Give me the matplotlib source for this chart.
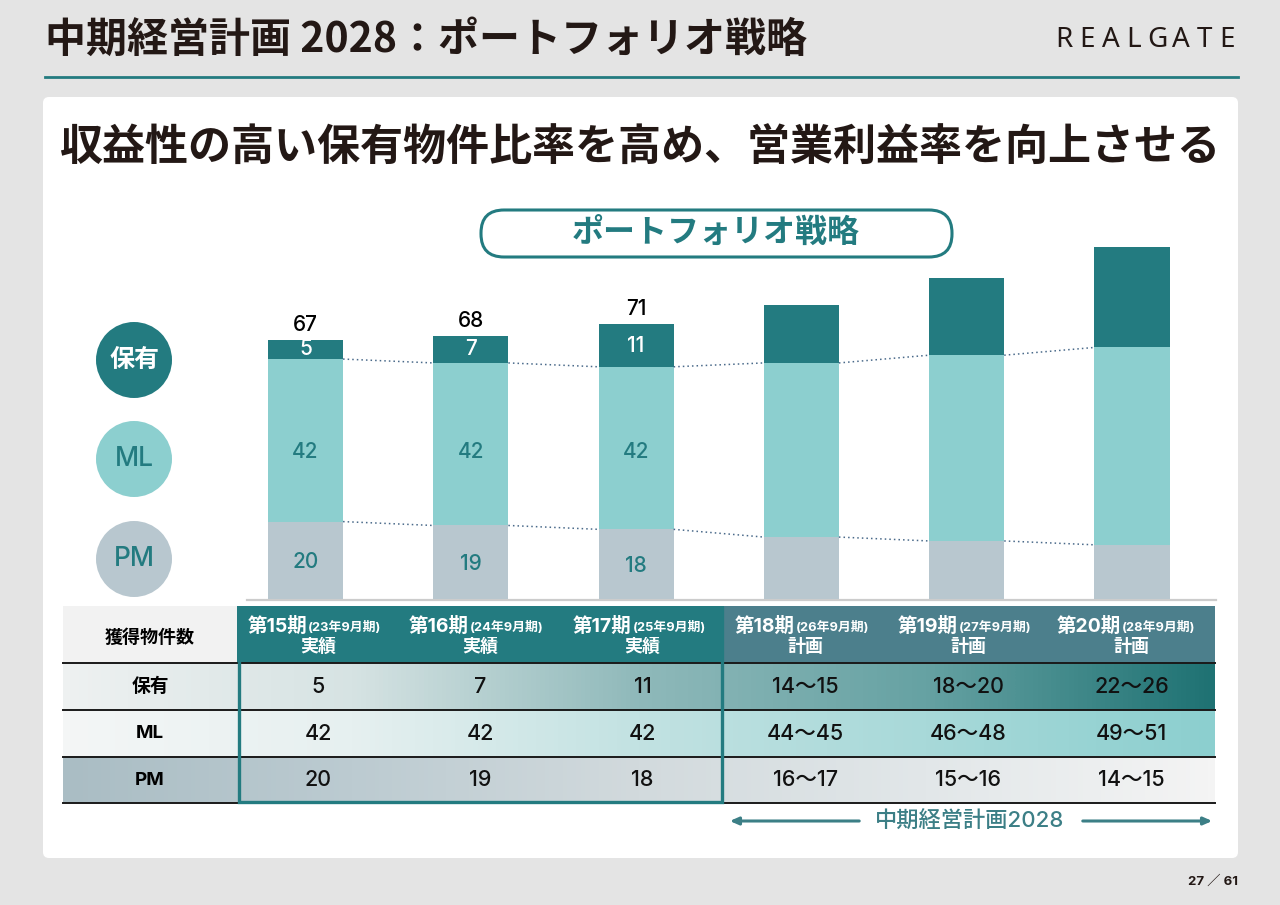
import numpy as np
import matplotlib
matplotlib.use('Agg')
import matplotlib.pyplot as plt
from matplotlib.patches import Rectangle, Circle, FancyBboxPatch
from matplotlib.colors import LinearSegmentedColormap

plt.rcParams['font.family'] = ['Noto Sans CJK JP', 'DejaVu Sans']
NUM = ['Inter', 'Noto Sans CJK JP']  # wide Latin digits, CJK fallback

# ---- data ----
periods = ['第15期', '第16期', '第17期', '第18期', '第19期', '第20期']
fiscal = ['(23年9月期)', '(24年9月期)', '(25年9月期)', '(26年9月期)', '(27年9月期)', '(28年9月期)']
kinds = ['実績', '実績', '実績', '計画', '計画', '計画']

pm_bar = [20, 19, 18, 16, 15, 14]
ml_bar = [42, 42, 42, 45, 48, 51]
keep_bar = [5, 7, 11, 15, 20, 26]
n_actual = 3

row_names = ['保有', 'ML', 'PM']
keep_txt = ['5', '7', '11', '14〜15', '18〜20', '22〜26']
ml_txt = ['42', '42', '42', '44〜45', '46〜48', '49〜51']
pm_txt = ['20', '19', '18', '16〜17', '15〜16', '14〜15']

TEAL = '#237b80'
LTEAL = '#8ccfcf'
GRAY = '#b8c7cf'
PLAN = '#4c7f8c'
INK = '#231815'

fig = plt.figure(figsize=(12.8, 9.05), dpi=100)
fig.patch.set_facecolor('#e4e4e4')
bg = fig.add_axes([0, 0, 1, 1], zorder=0)
bg.set_xlim(0, 1280)
bg.set_ylim(905, 0)
bg.axis('off')

# header
bg.text(45, 40, '中期経営計画 2028：ポートフォリオ戦略', fontsize=29.5, fontweight='bold',
        color=INK, va='center', ha='left')
for i, ch in enumerate('REALGATE'):
    bg.text(1052 + 23.4 * (i + 0.5), 40, ch, fontsize=20, color=INK, ha='center', va='center',
            family=['Noto Sans', 'DejaVu Sans'], fontweight='light')
bg.plot([45, 1238], [77, 77], color=TEAL, lw=2)

# white panel
bg.add_patch(FancyBboxPatch((43, 97), 1195, 761, boxstyle='round,pad=0,rounding_size=6',
                            fc='white', ec='none', zorder=1))
bg.text(640, 147, '収益性の高い保有物件比率を高め、営業利益率を向上させる', fontsize=31,
        fontweight='bold', color=INK, ha='center', va='center', zorder=3)

# pill title
bg.add_patch(FancyBboxPatch((481, 210), 471, 47, boxstyle='round,pad=0,rounding_size=23',
                            fc='white', ec=TEAL, lw=2.2, zorder=3))
bg.text(716, 234, 'ポートフォリオ戦略', fontsize=23, fontweight='bold', color=TEAL,
        ha='center', va='center', zorder=4)

# legend circles
for y, fc, lab, tc, fw, fs in [(360, TEAL, '保有', 'white', 'bold', 18),
                               (459, LTEAL, 'ML', TEAL, 'medium', 19),
                               (559, GRAY, 'PM', TEAL, 'medium', 19)]:
    bg.add_patch(Circle((134, y), 38, fc=fc, ec='none', zorder=3))
    bg.text(134, y, lab, fontsize=fs, color=tc, fontweight=fw, ha='center', va='center',
            zorder=4, family=NUM)

# ---- bars ----
ax = fig.add_axes([230 / 1280, (905 - 599) / 905, 1000 / 1280, 400 / 905], zorder=2)
ax.patch.set_alpha(0)
ax.axis('off')
x = np.arange(len(periods))
w = 0.454
pm = np.array(pm_bar)
ml = np.array(ml_bar)
kp = np.array(keep_bar)
ax.bar(x, pm, w, color=GRAY, edgecolor='none')
ax.bar(x, ml, w, bottom=pm, color=LTEAL, edgecolor='none')
ax.bar(x, kp, w, bottom=pm + ml, color=TEAL, edgecolor='none')
for i in range(len(x) - 1):
    for lev in (pm, pm + ml):
        ax.plot([x[i] + w / 2, x[i + 1] - w / 2], [lev[i], lev[i + 1]], ls=(0, (1, 2)),
                color='#4a6a8a', lw=1.1)
ml_label_y = 38  # ML labels sit on one line in the slide
lab_kw = dict(ha='center', va='center', fontsize=15, family=NUM, fontweight='medium')
for i in range(n_actual):
    ax.text(x[i], pm[i] / 2 - 0.5, str(pm[i]), color=TEAL, **lab_kw)
    ax.text(x[i], ml_label_y, str(ml[i]), color=TEAL, **lab_kw)
    ax.text(x[i], pm[i] + ml[i] + kp[i] / 2, str(kp[i]), color='white', **lab_kw)
    ax.text(x[i], pm[i] + ml[i] + kp[i] + 3.9, str(pm[i] + ml[i] + kp[i]), color='black',
            **lab_kw)
ax.set_xlim(-0.457, 5.593)
ax.set_ylim(0, 400 / 3.87)
bg.plot([247, 1216], [600, 600], color='#cccccc', lw=1.6, zorder=3)

# ---- table ----
edges = [237 + 162 * i for i in range(3)] + [724 + 163 * i for i in range(4)]
cx = [(edges[i] + edges[i + 1]) / 2 for i in range(6)]
rows_y = [663, 710, 757, 803]


def grad(x0, x1, y0, y1, colors):
    cm = LinearSegmentedColormap.from_list('g', colors)
    bg.imshow(np.linspace(0, 1, 256)[None, :], cmap=cm, extent=(x0, x1, y1, y0),
              aspect='auto', zorder=2, interpolation='bilinear')


# header row
bg.add_patch(Rectangle((63, 606), 174, 57, fc='#f2f2f2', ec='none', zorder=2))
bg.add_patch(Rectangle((237, 606), 487, 57, fc=TEAL, ec='none', zorder=2))
bg.add_patch(Rectangle((724, 606), 491, 57, fc=PLAN, ec='none', zorder=2))
bg.text(150, 637, '獲得物件数', fontsize=13, fontweight='bold', color='black',
        ha='center', va='center', zorder=4)
for i in range(6):
    sx = cx[i] - 11
    bg.text(sx, 626, periods[i], fontsize=14, fontweight='bold', color='white',
            ha='right', va='center', zorder=4, family=NUM)
    bg.text(sx + 1, 627, fiscal[i], fontsize=9.3, fontweight='bold', color='white',
            ha='left', va='center', zorder=4, family=NUM)
    bg.text(cx[i], 646, kinds[i], fontsize=13, fontweight='bold', color='white',
            ha='center', va='center', zorder=4)

# body rows: one gradient per row
row_colors = [
    ['#eef1f1', '#d6e3e3', '#8fb9ba', '#66a2a3', '#1f7273'],
    ['#f4f6f6', '#e6f0f0', '#c2e2e2', '#a8d9d9', '#8ccfcf'],
    ['#aabdc4', '#bccbd1', '#d2dadd', '#e2e7e9', '#f4f4f4'],
]
row_texts = [keep_txt, ml_txt, pm_txt]
for r in range(3):
    y0, y1 = rows_y[r], rows_y[r + 1]
    grad(63, 1215, y0, y1, row_colors[r])
    bg.text(150, (y0 + y1) / 2, row_names[r], fontsize=13.5, fontweight='bold', color='black',
            ha='center', va='center', zorder=4, family=NUM)
    for i in range(6):
        bg.text(cx[i], (y0 + y1) / 2, row_texts[r][i], fontsize=15.5, color='#111111',
                fontweight='medium', ha='center', va='center', zorder=4, family=NUM)
for y in rows_y:
    bg.plot([63, 1215], [y, y], color='#1a1a1a', lw=1.4, zorder=3)
bg.add_patch(Rectangle((238.5, 607.5), 483, 194, fc='none', ec=TEAL, lw=2.4, zorder=5))

# mid-term plan arrow
bg.text(970, 821, '中期経営計画2028', fontsize=16, color='#3c7f86', ha='center', va='center',
        zorder=4, family=NUM, fontweight='medium')
bg.annotate('', xy=(727, 821), xytext=(862, 821), zorder=4,
            arrowprops=dict(arrowstyle='-|>,head_length=0.5,head_width=0.22', color='#3c7f86', lw=2.2))
bg.annotate('', xy=(1215, 821), xytext=(1080, 821), zorder=4,
            arrowprops=dict(arrowstyle='-|>,head_length=0.5,head_width=0.22', color='#3c7f86', lw=2.2))

# page number
bg.text(1213, 882, '27 ／ 61', fontsize=9.5, fontweight='bold', color=INK, ha='center',
        va='center', family=NUM)

bg.set_xlim(0, 1280)
bg.set_ylim(905, 0)
fig.savefig('out.png', dpi=100, facecolor=fig.get_facecolor())
